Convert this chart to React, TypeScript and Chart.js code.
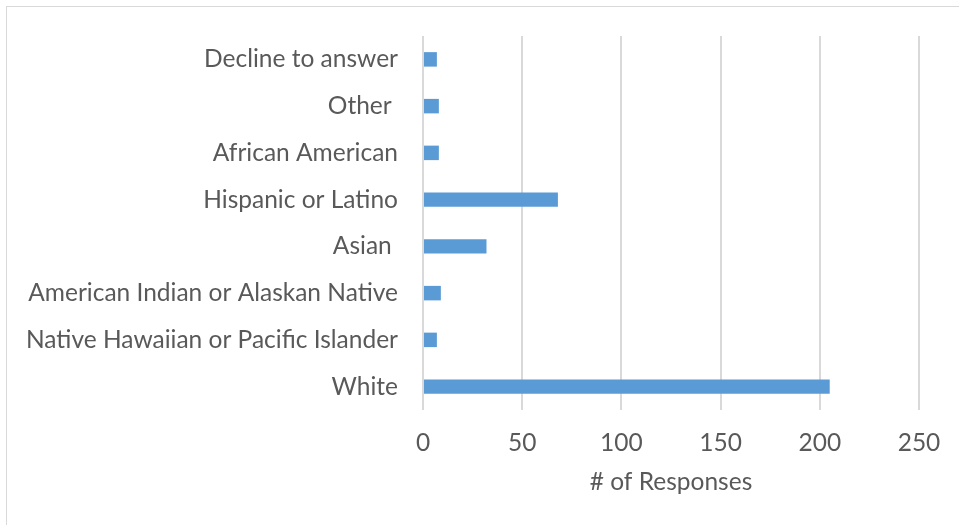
import React, { useEffect, useRef } from "react";
import { Chart, registerables } from "chart.js";

Chart.register(...registerables);

const categories = [
  "Decline to answer",
  "Other ",
  "African American",
  "Hispanic or Latino",
  "Asian ",
  "American Indian or Alaskan Native",
  "Native Hawaiian or Pacific Islander",
  "White",
];
const responses = [7, 8, 8, 68, 32, 9, 7, 205];
const xTicks = [0, 50, 100, 150, 200, 250];
const xTitle = "# of Responses";

const FONT = "Lato, 'Open Sans', sans-serif";
const TEXT = "#595959";
const GRID = "#d9d9d9";
const BAR = "#5B9BD5";

export default function App() {
  const ref = useRef<HTMLCanvasElement | null>(null);

  useEffect(() => {
    if (!ref.current) return;
    const chart = new Chart(ref.current, {
      type: "bar",
      data: {
        labels: categories,
        datasets: [
          {
            data: responses,
            backgroundColor: BAR,
            borderWidth: 0,
            categoryPercentage: 1,
            barPercentage: 0.31,
          },
        ],
      },
      options: {
        indexAxis: "y",
        animation: false,
        responsive: false,
        maintainAspectRatio: false,
        layout: { padding: { top: 36, right: 40, left: 0, bottom: 0 } },
        plugins: {
          legend: { display: false },
          tooltip: { enabled: false },
        },
        scales: {
          x: {
            min: xTicks[0],
            max: xTicks[xTicks.length - 1],
            afterBuildTicks: (scale: any) => {
              scale.ticks = xTicks.map((v) => ({ value: v }));
            },
            afterFit: (scale: any) => {
              scale.height = 115;
            },
            grid: { color: GRID, lineWidth: 2, drawTicks: false },
            border: { display: false },
            ticks: {
              color: TEXT,
              font: { family: FONT, size: 24.5 },
              padding: 18,
              maxRotation: 0,
            },
            title: {
              display: true,
              text: xTitle,
              color: TEXT,
              font: { family: FONT, size: 24.5 },
              padding: { top: 0, bottom: 28 },
            },
          },
          y: {
            afterFit: (scale: any) => {
              scale.width = 423;
              scale.paddingTop = 0;
              scale.paddingBottom = 0;
            },
            grid: { display: false, drawTicks: false },
            border: { display: false },
            ticks: {
              color: TEXT,
              font: { family: FONT, size: 24.5 },
              padding: 25,
              autoSkip: false,
            },
          },
        },
      },
    });
    return () => chart.destroy();
  }, []);

  return (
    <div
      style={{
        position: "fixed",
        left: 0,
        top: 0,
        width: 959,
        height: 525,
        overflow: "hidden",
        background: "#fff",
      }}
    >
      <div
        style={{
          position: "absolute",
          left: 6,
          top: 6,
          width: 1000,
          height: 1000,
          border: "1.5px solid #d9d9d9",
          boxSizing: "border-box",
        }}
      />
      <canvas
        ref={ref}
        width={959}
        height={525}
        style={{ position: "absolute", left: 0, top: 0, width: 959, height: 525 }}
      />
    </div>
  );
}
